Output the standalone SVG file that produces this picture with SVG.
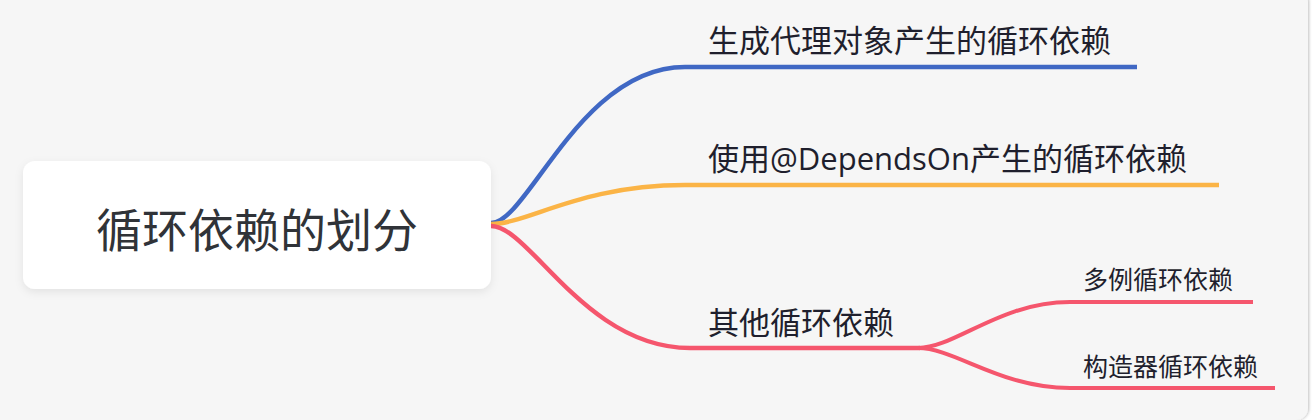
<svg xmlns="http://www.w3.org/2000/svg" width="1312" height="420" viewBox="0 0 1312 420">
  <defs>
    <filter id="shadow" x="-10%" y="-20%" width="120%" height="150%">
      <feDropShadow dx="0" dy="3" stdDeviation="4" flood-color="#000000" flood-opacity="0.08"/>
    </filter>
    <filter id="edge" x="-5%" y="-5%" width="110%" height="110%">
      <feDropShadow dx="1" dy="0" stdDeviation="1.5" flood-color="#000000" flood-opacity="0.25"/>
    </filter>
  </defs>
  <style>
    .conn { fill: none; stroke-linecap: butt; stroke-linejoin: round; }
    .blue { stroke: #4068c4; stroke-width: 4.5; }
    .orange { stroke: #fbb446; stroke-width: 4.5; }
    .red { stroke: #f5566d; stroke-width: 4.5; }
    .redsub { stroke: #f5566d; stroke-width: 4; }
    .label { font-family: "Open Sans", "Noto Sans CJK SC", sans-serif; fill: #1f1f2d; }
    .l1 { font-size: 31px; }
    .l2 { font-size: 25px; }
    .root { font-family: "Noto Sans CJK SC", sans-serif; font-size: 46px; fill: #303338; }
  </style>
  <rect x="0" y="0" width="1312" height="420" fill="#ffffff"/>
  <rect x="-20" y="-10" width="1328" height="430" rx="12" ry="12" fill="#f6f6f6" filter="url(#edge)"/>

  <g id="connectors">
    <path class="conn blue" d="M491,223 C528,223 580,67 685,67 L1137,67"/>
    <path class="conn orange" d="M491,224 C528,224 580,185 685,185 L1219,185"/>
    <path class="conn red" d="M491,226 C530,226 585,348 690,348 L920,348"/>
    <path class="conn redsub" d="M918,348 C955,348 1000,302 1070,302 L1253,302"/>
    <path class="conn redsub" d="M918,348 C955,348 1000,388 1070,388 L1275,388"/>
  </g>

  <g id="root">
    <rect x="23" y="161" width="468" height="128" rx="12" ry="12" fill="#ffffff" filter="url(#shadow)"/>
    <text class="root" x="257" y="247" text-anchor="middle">循环依赖的划分</text>
  </g>

  <g id="node-proxy">
    <text class="label l1" x="708" y="52">生成代理对象产生的循环依赖</text>
  </g>
  <g id="node-dependson">
    <text class="label l1" x="708" y="170">使用@DependsOn产生的循环依赖</text>
  </g>
  <g id="node-other">
    <text class="label l1" x="708" y="334">其他循环依赖</text>
  </g>
  <g id="node-prototype">
    <text class="label l2" x="1083" y="289">多例循环依赖</text>
  </g>
  <g id="node-constructor">
    <text class="label l2" x="1083" y="376">构造器循环依赖</text>
  </g>
</svg>
